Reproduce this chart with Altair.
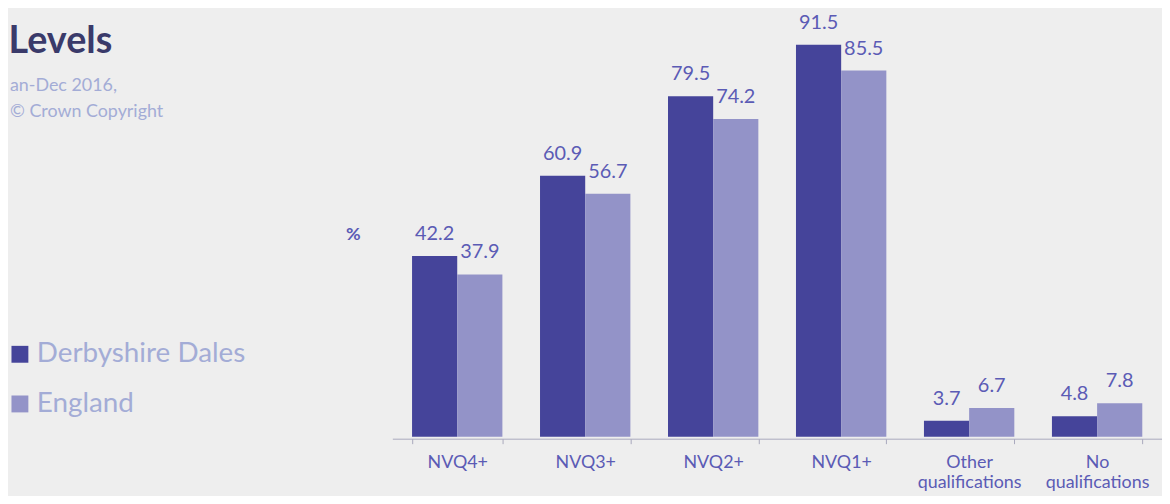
import altair as alt
import pandas as pd

categories = ["NVQ4+", "NVQ3+", "NVQ2+", "NVQ1+", "Other qualifications", "No qualifications"]
series_names = ["Derbyshire Dales", "England"]
derbyshire = [42.2, 60.9, 79.5, 91.5, 3.7, 4.8]
england = [37.9, 56.7, 74.2, 85.5, 6.7, 7.8]

title_text = ["Levels"]
subtitle_1 = ["an-Dec 2016,"]
subtitle_2 = ["© Crown Copyright"]
unit_text = ["%"]

rows = []
for i, c in enumerate(categories):
    rows.append({"cat": c, "series": series_names[0], "value": derbyshire[i]})
    rows.append({"cat": c, "series": series_names[1], "value": england[i]})
df = pd.DataFrame(rows)

DARK = "#45449a"
LIGHT = "#9393c8"
LABEL = "#5b5bb5"
PALE = "#a3acd6"
FONT = "Lato"

x_enc = alt.X(
    "cat:N",
    sort=categories,
    title=None,
    scale=alt.Scale(paddingInner=0.294, paddingOuter=0.154),
    axis=alt.Axis(
        labelAngle=0,
        labelFont=FONT,
        labelFontSize=18,
        labelColor=LABEL,
        labelPadding=10,
        labelLineHeight=20,
        labelExpr="split(datum.label, ' ')",
        domainColor="#a8a8bc",
        tickColor="#a8a8bc",
        tickSize=5,
        tickBand="extent",
        offset=2,
        grid=False,
    ),
)
y_enc = alt.Y("value:Q", scale=alt.Scale(domain=[0, 99], nice=False), axis=None)

base = alt.Chart(df)

bars = base.mark_bar().encode(
    x=x_enc,
    xOffset=alt.XOffset("series:N", sort=series_names, scale=alt.Scale(paddingInner=0, paddingOuter=0)),
    y=y_enc,
    color=alt.Color(
        "series:N",
        sort=series_names,
        scale=alt.Scale(domain=series_names, range=[DARK, LIGHT]),
        legend=alt.Legend(
            title=None,
            orient="none",
            legendX=-389,
            legendY=330,
            symbolType="square",
            symbolSize=289,
            symbolStrokeWidth=0,
            labelFont=FONT,
            labelFontSize=28,
            labelColor=PALE,
            labelOffset=3,
            labelLimit=0,
            rowPadding=22,
            padding=0,
        ),
    ),
)

labels = base.mark_text(
    dy=-16, baseline="alphabetic", align="center", font=FONT, fontSize=20, color=LABEL
).encode(
    x=alt.X("cat:N", sort=categories),
    xOffset=alt.XOffset("series:N", sort=series_names),
    y=alt.Y("value:Q"),
    text=alt.Text("value:Q", format=".1f"),
)

title_layer = alt.Chart(pd.DataFrame({"t": title_text})).mark_text(
    align="right", baseline="alphabetic", font=FONT, fontSize=38, fontWeight="bold", color="#3a3a6a"
).encode(x=alt.value(-282), y=alt.value(41), text="t:N")

sub1_layer = alt.Chart(pd.DataFrame({"t": subtitle_1})).mark_text(
    align="left", baseline="alphabetic", font=FONT, fontSize=18, color=PALE
).encode(x=alt.value(-385), y=alt.value(79), text="t:N")

sub2_layer = alt.Chart(pd.DataFrame({"t": subtitle_2})).mark_text(
    align="left", baseline="alphabetic", font=FONT, fontSize=18, color=PALE
).encode(x=alt.value(-385), y=alt.value(105), text="t:N")

unit_layer = alt.Chart(pd.DataFrame({"t": unit_text})).mark_text(
    align="right", baseline="alphabetic", font=FONT, fontSize=18, fontWeight="bold", color=LABEL
).encode(x=alt.value(-32), y=alt.value(229), text="t:N")

chart = (
    alt.layer(bars, labels, title_layer, sub1_layer, sub2_layer, unit_layer)
    .properties(
        width=775,
        height=427,
        autosize=alt.AutoSizeParams(type="none"),
        padding={"left": 387, "top": 3, "right": 0, "bottom": 58},
        background="#EEEEEE",
    )
    .configure_view(stroke=None)
)

chart.save("out.html", embed_options={"renderer": "svg", "actions": False})
